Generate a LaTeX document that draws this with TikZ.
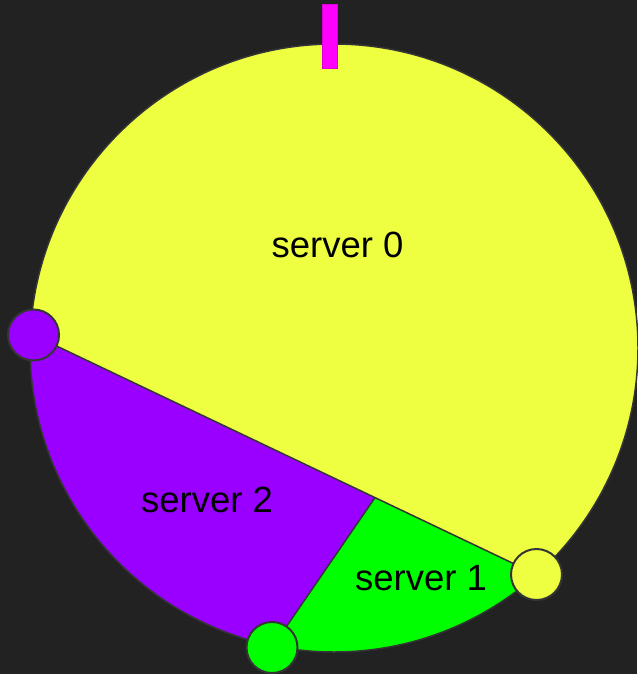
\documentclass[tikz,border=0pt]{standalone}
\usepackage{fontspec}
\setmainfont{Liberation Sans}
\definecolor{bg}{HTML}{222222}
\definecolor{ringyellow}{HTML}{EEFF41}
\definecolor{ringpurple}{HTML}{9900FF}
\definecolor{ringgreen}{HTML}{00FF00}
\definecolor{ringmagenta}{HTML}{FF00FF}
\definecolor{edgegray}{HTML}{353535}
\tikzset{
  ringnode/.style={circle, minimum size=51pt, inner sep=0pt, draw=edgegray, line width=2pt},
  tickmark/.style={rectangle, minimum width=15pt, minimum height=64pt, inner sep=0pt, fill=ringmagenta, draw=ringmagenta!85!black, line width=0.6pt},
  servertext/.style={anchor=base, font=\fontsize{36.5}{42}\selectfont, text=black, inner sep=0pt},
  boundary/.style={draw=edgegray, line width=1.5pt, line join=round}
}
\begin{document}
\begin{tikzpicture}[x=1pt,y=-1pt]
\useasboundingbox (0,0) rectangle (637,674);
\fill[bg] (0,0) rectangle (637,674);
\coordinate (C) at (334,348);
\coordinate (A) at (33.5,335);
\coordinate (B) at (536.5,574.5);
\coordinate (G) at (272,647.5);
\coordinate (P) at (375,497.6);
\begin{scope}
  \clip (C) circle[radius=304];
  \fill[ringyellow] (C) circle[radius=304];
  \fill[ringpurple] (-16.8,311) -- (P) -- (G) -- (220.5,722.5) -- (-50,722.5) -- (-50,311) -- cycle;
  \fill[ringgreen] (P) -- (B) -- (617,613) -- (700,730) -- (220.5,722.5) -- (G) -- cycle;
\end{scope}
\draw[boundary] (C) circle[radius=304];
\draw[boundary] (A) -- (P) -- (B);
\draw[boundary] (P) -- (G);
\node[ringnode, fill=ringpurple] (n2) at (A) {};
\node[ringnode, fill=ringyellow] (n0) at (B) {};
\node[ringnode, fill=ringgreen] (n1) at (G) {};
\node[tickmark] (tick) at (330,36.5) {};
\node[servertext] (s0) at (337.5,257) {server 0};
\node[servertext] (s2) at (207,512) {server 2};
\node[servertext] (s1) at (421,590) {server 1};
\end{tikzpicture}
\end{document}
